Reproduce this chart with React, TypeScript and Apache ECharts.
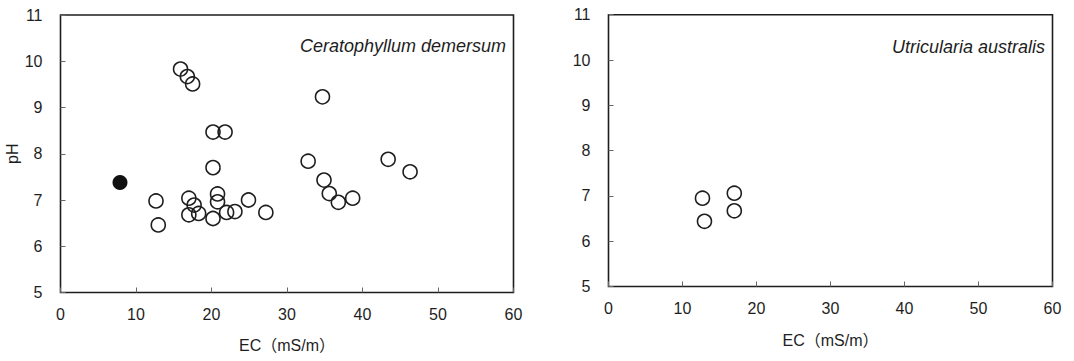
import React, { useEffect, useRef } from "react";
import * as echarts from "echarts";

// Ceratophyllum demersum (open circles)
const cdEC = [15.9, 16.8, 17.5, 34.7, 20.2, 21.8, 20.2, 32.8, 43.4, 46.3, 34.9, 35.6, 36.8, 38.7, 12.65, 12.95, 17.0, 17.7, 17.0, 18.3, 20.8, 20.8, 20.2, 22.0, 23.1, 24.9, 27.2];
const cdPH = [9.83, 9.67, 9.51, 9.23, 8.47, 8.47, 7.7, 7.84, 7.88, 7.61, 7.43, 7.14, 6.95, 7.04, 6.98, 6.46, 7.04, 6.89, 6.68, 6.71, 7.13, 6.96, 6.6, 6.73, 6.75, 7.0, 6.73];
// Ceratophyllum demersum (filled circle)
const cdFilledEC = [7.88];
const cdFilledPH = [7.38];
// Utricularia australis
const uaEC = [12.7, 12.97, 17.0, 17.0];
const uaPH = [6.95, 6.44, 7.06, 6.67];

const xTicks = [0, 10, 20, 30, 40, 50, 60];
const yTicks = [5, 6, 7, 8, 9, 10, 11];

const titles = ["Ceratophyllum demersum", "Utricularia australis"];
const xName = "EC（mS/m）";
const yName = "pH";

const zip = (a: number[], b: number[]) => a.map((v, i) => [v, b[i]]);

export default function App() {
  const ref = useRef<HTMLDivElement>(null);
  useEffect(() => {
    if (!ref.current) return;
    const chart = echarts.init(ref.current, undefined, { renderer: "svg" });
    const ink = "#1e1e1e";
    const font = "'Liberation Sans', Arial, 'Noto Sans CJK JP', sans-serif";
    const mkX = (gridIndex: number, gap: number) => ({
      type: "value" as const,
      gridIndex,
      min: xTicks[0],
      max: xTicks[xTicks.length - 1],
      interval: 10,
      name: xName,
      nameLocation: "middle" as const,
      nameGap: gap,
      nameTextStyle: { color: ink, fontSize: 16, fontFamily: font },
      axisLine: { show: false },
      axisTick: { show: true, inside: true, length: 5, lineStyle: { color: "#666", width: 1 } },
      axisLabel: { color: ink, fontSize: 16, fontFamily: font, margin: 14 },
      splitLine: { show: false },
    });
    const mkY = (gridIndex: number, withName: boolean) => ({
      type: "value" as const,
      gridIndex,
      min: yTicks[0],
      max: yTicks[yTicks.length - 1],
      interval: 1,
      name: withName ? yName : "",
      nameLocation: "middle" as const,
      nameGap: 35,
      nameTextStyle: { color: ink, fontSize: 16, fontFamily: font },
      axisLine: { show: false },
      axisTick: { show: true, inside: true, length: 5, lineStyle: { color: "#666", width: 1 } },
      axisLabel: { color: ink, fontSize: 16, fontFamily: font, margin: 18 },
      splitLine: { show: false },
    });
    const openStyle = { color: "rgba(0,0,0,0)", borderColor: ink, borderWidth: 1.6, opacity: 1 };
    chart.setOption({
      animation: false,
      backgroundColor: "#fff",
      grid: [
        { left: 60.5, top: 15, width: 453, height: 277.5, show: true, borderColor: ink, borderWidth: 1.6, backgroundColor: "transparent" },
        { left: 608.5, top: 14.7, width: 444, height: 271.8, show: true, borderColor: ink, borderWidth: 1.6, backgroundColor: "transparent" },
      ],
      xAxis: [mkX(0, 45), mkX(1, 46)],
      yAxis: [mkY(0, true), mkY(1, false)],
      graphic: [
        { type: "text", x: 506, y: 46, style: { text: titles[0], fill: ink, font: `italic 18px ${font}`, textAlign: "right", textVerticalAlign: "middle" } },
        { type: "text", x: 1045, y: 47, style: { text: titles[1], fill: ink, font: `italic 18px ${font}`, textAlign: "right", textVerticalAlign: "middle" } },
      ],
      series: [
        { type: "scatter", xAxisIndex: 0, yAxisIndex: 0, symbol: "circle", symbolSize: 14, itemStyle: openStyle, data: zip(cdEC, cdPH) },
        { type: "scatter", xAxisIndex: 0, yAxisIndex: 0, symbol: "circle", symbolSize: 15, itemStyle: { color: "#111", opacity: 1 }, data: zip(cdFilledEC, cdFilledPH) },
        { type: "scatter", xAxisIndex: 1, yAxisIndex: 1, symbol: "circle", symbolSize: 14, itemStyle: openStyle, data: zip(uaEC, uaPH) },
      ],
    });
    return () => chart.dispose();
  }, []);
  return <div ref={ref} style={{ position: "fixed", left: 0, top: 0, width: 1074, height: 361 }} />;
}
